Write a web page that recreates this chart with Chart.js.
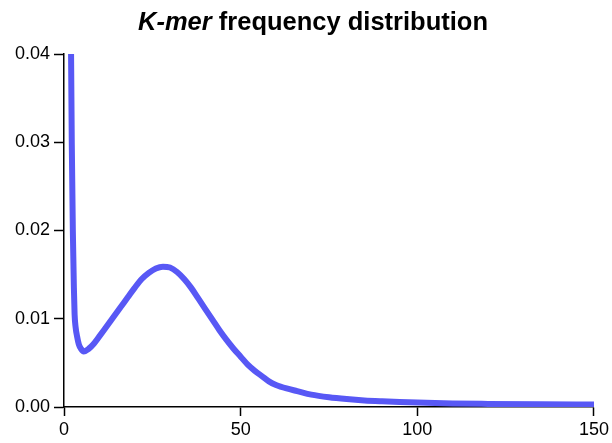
<!DOCTYPE html>
<html>
<head>
<meta charset="utf-8">
<script src="https://cdn.jsdelivr.net/npm/chart.js@4.4.1/dist/chart.umd.min.js"></script>
<style>
  html, body { margin: 0; padding: 0; background: #fff; }
  #wrap { position: relative; width: 612px; height: 443px; }
  #title {
    position: absolute; left: 0; top: 6px; width: 626px;
    text-align: center; font-family: "Liberation Sans", Arial, sans-serif;
    font-weight: bold; font-size: 25.5px; color: #000; line-height: 30px;
  }
  canvas { position: absolute; left: 0; top: 0; }
</style>
</head>
<body>
<div id="wrap">
  <canvas id="kmerChart" width="612" height="443"></canvas>
  <div id="title"><i>K-mer</i> frequency distribution</div>
</div>
<script>
// k-mer depth (x) and frequency (y)
const depth = [2.0, 2.2, 2.5, 2.8, 3.0, 3.3, 3.7, 4.2, 4.8, 5.6, 7, 8.5, 10, 12, 14, 16,
  18, 20, 22, 24, 26, 28, 30, 32, 34, 36, 38, 40, 42, 44, 46, 48, 50, 52, 54,
  56, 58, 60, 63, 66, 70, 75, 80, 85, 90, 95, 100, 110, 120, 135, 150];
const frequency = [0.040, 0.030, 0.020, 0.0135, 0.0105, 0.0090, 0.0080, 0.0071, 0.0066,
  0.0063, 0.0066, 0.0072, 0.0080, 0.0091, 0.0102, 0.0113, 0.0124, 0.0135, 0.0145,
  0.0152, 0.0157, 0.0159, 0.0158, 0.0153, 0.0145, 0.0135, 0.0123, 0.0111, 0.0099,
  0.0087, 0.0076, 0.0066, 0.0057, 0.0048, 0.0041, 0.0035, 0.0029, 0.0025, 0.0021,
  0.0018, 0.0014, 0.0011, 0.0009, 0.00075, 0.00065, 0.00057, 0.0005, 0.0004,
  0.00035, 0.0003, 0.00027];

const xTicks = [0, 50, 100, 150];
const yTicks = ['0.00', '0.01', '0.02', '0.03', '0.04'];

const points = depth.map((d, i) => ({ x: d, y: frequency[i] }));

const ctx = document.getElementById('kmerChart').getContext('2d');

new Chart(ctx, {
  type: 'line',
  data: {
    datasets: [{
      data: points,
      borderColor: 'rgb(88, 88, 245)',
      borderWidth: 6,
      borderCapStyle: 'butt',
      pointRadius: 0,
      cubicInterpolationMode: 'monotone',
      fill: false
    }]
  },
  options: {
    responsive: false,
    animation: false,
    layout: { padding: { top: 54, right: 18, left: 0, bottom: 0 } },
    plugins: { legend: { display: false }, tooltip: { enabled: false } },
    scales: {
      x: {
        type: 'linear',
        min: 0, max: 150,
        afterBuildTicks: (scale) => { scale.ticks = xTicks.map(v => ({ value: v })); },
        afterFit: (scale) => { scale.height = 36; },
        grid: { drawOnChartArea: false, tickLength: 9, tickColor: '#000', tickWidth: 1.5 },
        border: { color: '#000', width: 1.5 },
        ticks: {
          color: '#000', padding: 3,
          font: { family: 'Liberation Sans, Arial, sans-serif', size: 18 }
        }
      },
      y: {
        min: 0, max: 0.04,
        afterBuildTicks: (scale) => { scale.ticks = yTicks.map(v => ({ value: parseFloat(v) })); },
        afterFit: (scale) => { scale.width = 64; },
        grid: { drawOnChartArea: false, tickLength: 10, tickColor: '#000', tickWidth: 1.5 },
        border: { color: '#000', width: 1.5 },
        ticks: {
          color: '#000', padding: 4,
          callback: (v, i) => yTicks[i],
          font: { family: 'Liberation Sans, Arial, sans-serif', size: 18 }
        }
      }
    }
  }
});
</script>
</body>
</html>
